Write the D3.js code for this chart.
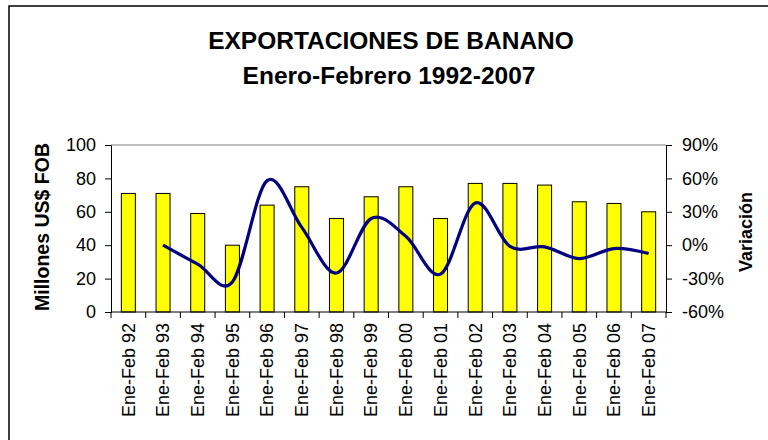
<!DOCTYPE html>
<html>
<head>
<meta charset="utf-8">
<script src="https://cdn.jsdelivr.net/npm/d3@7"></script>
<style>
  body { margin: 0; background: #fff; }
  svg { display: block; font-family: Arial, "Liberation Sans", sans-serif; }
</style>
</head>
<body>
<svg id="chart" width="768" height="440"></svg>
<script>
const categories = ["Ene-Feb 92","Ene-Feb 93","Ene-Feb 94","Ene-Feb 95","Ene-Feb 96","Ene-Feb 97","Ene-Feb 98","Ene-Feb 99","Ene-Feb 00","Ene-Feb 01","Ene-Feb 02","Ene-Feb 03","Ene-Feb 04","Ene-Feb 05","Ene-Feb 06","Ene-Feb 07"];
const exportValues = [71, 71, 59, 40, 64, 75, 56, 69, 75, 56, 77, 77, 76, 66, 65, 60];
const variation = [null, 0, -17, -33, 58, 16, -25, 24, 8, -26, 38, -1, -1.5, -12, -3, -7.5];
const leftTicks = [0, 20, 40, 60, 80, 100];
const rightTicks = [-60, -30, 0, 30, 60, 90];

const svg = d3.select("#chart");
const plot = { left: 111, right: 666, top: 145, bottom: 312 };

// outer border
svg.append("rect").attr("x", 9).attr("y", 6).attr("width", 770).attr("height", 460)
  .attr("fill", "none").attr("stroke", "#000").attr("stroke-width", 1.5);

// titles
svg.append("text").attr("x", 391).attr("y", 49).attr("text-anchor", "middle")
  .attr("font-size", 24.5).attr("font-weight", "bold").text("EXPORTACIONES DE BANANO");
svg.append("text").attr("x", 389).attr("y", 84).attr("text-anchor", "middle")
  .attr("font-size", 24.5).attr("font-weight", "bold").text("Enero-Febrero 1992-2007");

const x = d3.scaleBand().domain(categories).range([plot.left, plot.right]).paddingInner(0).paddingOuter(0);
const yL = d3.scaleLinear().domain([0, 100]).range([plot.bottom, plot.top]);
const yR = d3.scaleLinear().domain([-60, 90]).range([plot.bottom, plot.top]);

// top gridline
svg.append("line").attr("x1", plot.left).attr("x2", plot.right)
  .attr("y1", yL(100)).attr("y2", yL(100)).attr("stroke", "#808080").attr("stroke-width", 1);

// bars
const bw = 14;
svg.append("g").selectAll("rect").data(exportValues).join("rect")
  .attr("x", (d, i) => x(categories[i]) + x.bandwidth() / 2 - bw / 2)
  .attr("y", d => yL(d))
  .attr("width", bw)
  .attr("height", d => yL(0) - yL(d))
  .attr("fill", "#FFFF00").attr("stroke", "#000").attr("stroke-width", 1);

// line
const pts = variation.map((v, i) => [x(categories[i]) + x.bandwidth() / 2, v]).filter(p => p[1] !== null);
svg.append("path").datum(pts)
  .attr("d", d3.line().x(p => p[0]).y(p => yR(p[1])).curve(d3.curveCardinal.tension(0)))
  .attr("fill", "none").attr("stroke", "#000080").attr("stroke-width", 3.2);

// left axis
const gl = svg.append("g").attr("transform", `translate(${plot.left},0)`)
  .call(d3.axisLeft(yL).tickValues(leftTicks).tickSize(6).tickPadding(9));
gl.selectAll("text").attr("font-size", 18).attr("font-family", "Arial, 'Liberation Sans', sans-serif").attr("fill", "#000");
gl.selectAll("line, path").attr("stroke", "#000");

// right axis
const gr = svg.append("g").attr("transform", `translate(${plot.right},0)`)
  .call(d3.axisRight(yR).tickValues(rightTicks).tickSize(6).tickPadding(10).tickFormat(d => d + "%"));
gr.selectAll("text").attr("font-size", 18).attr("font-family", "Arial, 'Liberation Sans', sans-serif").attr("fill", "#000");
gr.selectAll("line, path").attr("stroke", "#000");

// bottom axis
const gb = svg.append("g").attr("transform", `translate(0,${plot.bottom})`);
gb.append("line").attr("x1", plot.left).attr("x2", plot.right).attr("y1", 0).attr("y2", 0).attr("stroke", "#000");
const edges = categories.map(c => x(c)).concat([plot.right]);
gb.selectAll("line.tk").data(edges).join("line").attr("class", "tk")
  .attr("x1", d => d).attr("x2", d => d).attr("y1", 0).attr("y2", 6).attr("stroke", "#000");
gb.selectAll("text").data(categories).join("text")
  .attr("transform", d => `translate(${x(d) + x.bandwidth() / 2},11) rotate(-90)`)
  .attr("text-anchor", "end").attr("dy", "0.35em")
  .attr("font-size", 18).text(d => d);

// axis titles
svg.append("text").attr("transform", "translate(42,227) rotate(-90)")
  .attr("text-anchor", "middle").attr("dy", "0.35em")
  .attr("font-size", 19.5).attr("font-weight", "bold").text("Millones US$ FOB");
svg.append("text").attr("transform", "translate(746,232) rotate(-90)")
  .attr("text-anchor", "middle").attr("dy", "0.35em")
  .attr("font-size", 18).attr("font-weight", "bold").text("Variación");
</script>
</body>
</html>
